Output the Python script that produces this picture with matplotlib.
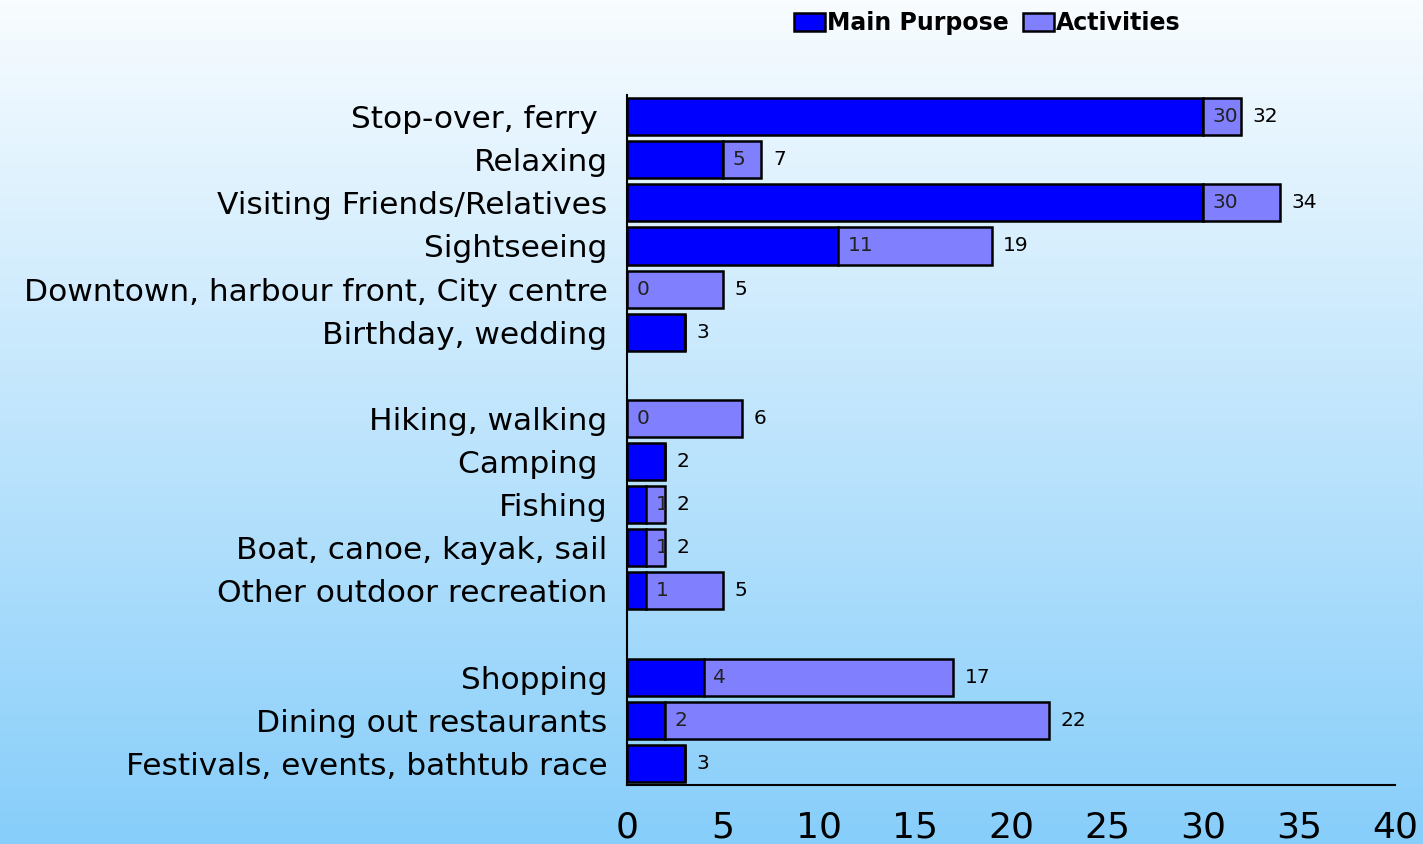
import numpy as np
import matplotlib.pyplot as plt

# 数据 (自上而下)
categories = ['Stop-over, ferry ', 'Relaxing', 'Visiting Friends/Relatives', 'Sightseeing',
              'Downtown, harbour front, City centre', 'Birthday, wedding',
              'Hiking, walking', 'Camping ', 'Fishing', 'Boat, canoe, kayak, sail',
              'Other outdoor recreation',
              'Shopping', 'Dining out restaurants', 'Festivals, events, bathtub race']
group_sizes = [6, 5, 3]
main_purpose = [30, 5, 30, 11, 0, 3, 0, 2, 1, 1, 1, 4, 2, 3]
totals = [32, 7, 34, 19, 5, 3, 6, 2, 2, 2, 5, 17, 22, 3]
x_ticks = [0, 5, 10, 15, 20, 25, 30, 35, 40]

main_purpose = np.array(main_purpose)
totals = np.array(totals)
activities = totals - main_purpose

# 行位置：组之间空一行
pos = []
row = 0
for g in group_sizes:
    for _ in range(g):
        pos.append(row)
        row += 1
    row += 1
n_rows = row - 1
y = n_rows - 1 - np.array(pos)

fig = plt.figure(figsize=(14.23, 8.44), dpi=100)

# 背景渐变
bg = fig.add_axes([0, 0, 1, 1], zorder=-10)
grad = np.linspace(0, 1, 256).reshape(-1, 1)
top = np.array([248, 252, 255]) / 255
bottom = np.array([135, 206, 250]) / 255
img = top + (bottom - top) * grad[:, :, None]
bg.imshow(img, aspect='auto', extent=[0, 1, 0, 1])
bg.axis('off')

ax = fig.add_axes([0.4406, 0.0699, 0.5397, 0.8175])
ax.patch.set_alpha(0)

h = 0.86
ax.barh(y, main_purpose, height=h, color='#0000FF', edgecolor='black', linewidth=1.8,
        label='Main Purpose')
ax.barh(y, activities, left=main_purpose, height=h, color='#8080FF', edgecolor='black',
        linewidth=1.8, label='Activities')

for yi, m, a, t in zip(y, main_purpose, activities, totals):
    if a > 0:
        ax.text(m + 0.5, yi, str(m), va='center', ha='left', fontsize=14.5, color='#222222')
    ax.text(t + 0.6, yi, str(t), va='center', ha='left', fontsize=14.5, color='black')

ax.set_xlim(0, 40)
ax.set_ylim(-0.5, n_rows - 0.5)
ax.set_yticks(y)
ax.set_yticklabels(categories, fontsize=22.5)
ax.set_xticks(x_ticks)
ax.set_xticklabels([str(v) for v in x_ticks], fontsize=26)
ax.tick_params(axis='both', length=0)
ax.tick_params(axis='y', pad=14)
ax.tick_params(axis='x', pad=18)
ax.spines['top'].set_visible(False)
ax.spines['right'].set_visible(False)
ax.spines['left'].set_linewidth(1.5)
ax.spines['bottom'].set_linewidth(1.5)

leg = fig.legend(loc='upper left', bbox_to_anchor=(0.543, 1.012), ncol=2, frameon=False,
                 prop={'size': 17, 'weight': 'bold'}, handlelength=1.3, handleheight=0.8,
                 handletextpad=0.1, columnspacing=0.6)

fig.savefig('out.png', dpi=100)
